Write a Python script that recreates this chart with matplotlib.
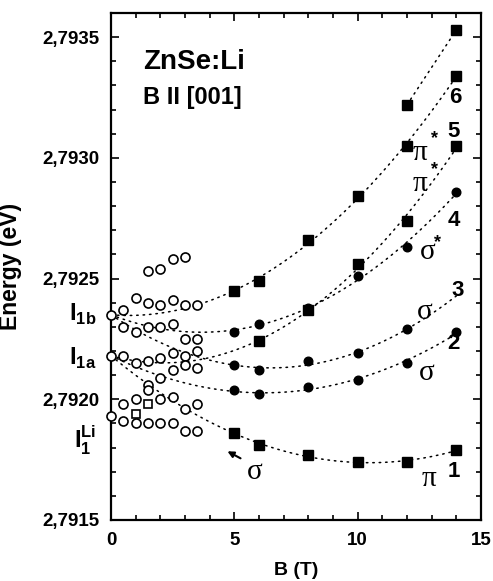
import numpy as np
import matplotlib
matplotlib.use("Agg")
import matplotlib.pyplot as plt
from matplotlib.ticker import MultipleLocator, FuncFormatter

plt.rcParams['font.family'] = ['Liberation Sans', 'DejaVu Sans']
plt.rcParams['font.weight'] = 'bold'
plt.rcParams['mathtext.fontset'] = 'custom'
plt.rcParams['mathtext.rm'] = 'Liberation Sans:bold'
plt.rcParams['mathtext.bf'] = 'Liberation Sans:bold'

# zero-field lines
E_1b = 2.79235
E_1a = 2.79218
E_1Li = 2.79193

# low field open circles (B, E)
oc_B = [0, 0, 0,
        0.5, 0.5, 0.5, 0.5, 0.5,
        1, 1, 1, 1, 1,
        1.5, 1.5, 1.5, 1.5, 1.5, 1.5, 1.5,
        2, 2, 2, 2, 2, 2, 2,
        2.5, 2.5, 2.5, 2.5, 2.5, 2.5, 2.5,
        3, 3, 3, 3, 3, 3, 3,
        3.5, 3.5, 3.5, 3.5, 3.5, 3.5]
oc_E = [2.79235, 2.79218, 2.79193,
        2.79237, 2.79230, 2.79218, 2.79198, 2.79191,
        2.79242, 2.79228, 2.79215, 2.79200, 2.79190,
        2.79253, 2.79240, 2.79230, 2.79216, 2.79206, 2.79204, 2.79190,
        2.79254, 2.79239, 2.79230, 2.79217, 2.79209, 2.79200, 2.79190,
        2.79258, 2.79241, 2.79231, 2.79219, 2.79212, 2.79201, 2.79190,
        2.79259, 2.79239, 2.79225, 2.79218, 2.79214, 2.79196, 2.79187,
        2.79239, 2.79225, 2.79220, 2.79213, 2.79198, 2.79187]
os_B = [1, 1.5]
os_E = [2.79194, 2.79198]

# high field lines
B1 = [5, 6, 8, 10, 12, 14]
E1 = [2.79186, 2.79181, 2.79177, 2.79174, 2.79174, 2.79179]
B2 = [5, 6, 8, 10, 12, 14]
E2 = [2.79204, 2.79202, 2.79205, 2.79208, 2.79215, 2.79228]
B3 = [5, 6, 8, 10, 12]
E3 = [2.79214, 2.79212, 2.79216, 2.79219, 2.79229]
B4 = [5, 6, 8, 10, 12, 14]
E4 = [2.79228, 2.79231, 2.79238, 2.79251, 2.79263, 2.79286]
B5 = [6, 8, 10, 12, 14]
E5 = [2.79224, 2.79237, 2.79256, 2.79274, 2.79305]
B6 = [5, 6, 8, 10, 12, 14]
E6 = [2.79245, 2.79249, 2.79266, 2.79284, 2.79305, 2.79334]
B7 = [12, 14]
E7 = [2.79322, 2.79353]

fig = plt.figure(figsize=(4.93, 5.81), dpi=100)
ax = fig.add_axes([0.2252, 0.1050, 0.7505, 0.8726])

dot = dict(color='black', linestyle=(0, (1, 3.2)), linewidth=1.1,
           dash_capstyle='round')


def fit_line(B, E, E0):
    x = np.array([0] + list(B))
    y = np.array([E0] + list(E)) - 2.792
    w = np.ones_like(x, dtype=float)
    w[0] = 4
    p = np.polyfit(x, y, 2, w=w)
    bb = np.linspace(0, 14, 200)
    ax.plot(bb, np.polyval(p, bb) + 2.792, **dot)


fit_line(B1, E1, E_1a)
fit_line(B2, E2, E_1a)
fit_line(B3, E3, E_1b)
fit_line(B4, E4, E_1b)
fit_line(B5, E5, E_1a)
fit_line(B6, E6, E_1b)
ax.plot(B7, E7, **dot)

sq = dict(marker='s', color='black', linestyle='none', markersize=6.5)
ci = dict(marker='o', color='black', linestyle='none', markersize=6.2)
ax.plot(B1, E1, **sq)
ax.plot(B2, E2, **ci)
ax.plot(B3, E3, **ci)
ax.plot(B4, E4, **ci)
ax.plot(B5, E5, **sq)
ax.plot(B6, E6, **sq)
ax.plot(B7, E7, **sq)

ax.plot(oc_B, oc_E, marker='o', linestyle='none', markersize=6.5,
        markerfacecolor='white', markeredgecolor='black', markeredgewidth=1.2,
        clip_on=False, zorder=5)
ax.plot(os_B, os_E, marker='s', linestyle='none', markersize=6,
        markerfacecolor='white', markeredgecolor='black', markeredgewidth=1.2,
        zorder=5)

ax.set_xlim(0, 15)
ax.set_ylim(2.7915, 2.7936)
ax.xaxis.set_major_locator(MultipleLocator(5))
ax.xaxis.set_minor_locator(MultipleLocator(1))
ax.yaxis.set_major_locator(MultipleLocator(0.0005))
ax.yaxis.set_minor_locator(MultipleLocator(0.0001))
ax.yaxis.set_major_formatter(FuncFormatter(lambda v, p: f"{v:.4f}".replace('.', ',')))
ax.tick_params(which='both', direction='in', top=True, right=True, width=1.2)
ax.tick_params(which='major', length=6, labelsize=13.5)
ax.tick_params(axis='x', which='major', pad=9)
ax.tick_params(axis='y', which='major', pad=8)
ax.tick_params(which='minor', length=3.5)
for lab in ax.get_xticklabels() + ax.get_yticklabels():
    lab.set_fontweight('bold')
for s in ax.spines.values():
    s.set_linewidth(1.6)

ax.set_xlabel('B (T)', fontsize=14, fontweight='bold', labelpad=9)
ax.set_ylabel('Energy (eV)', fontsize=16.5, fontweight='bold')
ax.yaxis.set_label_coords(-0.24, 0.5)

ax.text(0.086, 0.903, 'ZnSe:Li', transform=ax.transAxes, fontsize=20,
        fontweight='bold', va='center')
ax.text(0.086, 0.834, 'B II [001]', transform=ax.transAxes, fontsize=17,
        fontweight='bold', va='center')

# zero field labels
ax.text(-0.04, E_1b, r'$\mathbf{I}_{\mathbf{1b}}$', transform=ax.get_yaxis_transform(),
        fontsize=17, ha='right', va='center')
ax.text(-0.04, E_1a - 0.00001, r'$\mathbf{I}_{\mathbf{1a}}$', transform=ax.get_yaxis_transform(),
        fontsize=17, ha='right', va='center')
ax.text(-0.04, E_1Li - 0.0001, r'$\mathbf{I}_{\mathbf{1}}^{\mathbf{Li}}$',
        transform=ax.get_yaxis_transform(), fontsize=17, ha='right', va='center')

# line labels
num = dict(fontsize=16, fontweight='bold', ha='center', va='center')
ax.text(13.95, 2.79325, '6', **num)
ax.text(13.9, 2.79311, '5', **num)
ax.text(13.9, 2.79274, '4', **num)
ax.text(14.05, 2.79245, '3', **num)
ax.text(13.9, 2.79223, '2', **num)
ax.text(13.9, 2.79170, '1', **num)

gr = dict(fontsize=21, family='Liberation Serif', fontweight='normal',
          ha='center', va='center')
ax.text(12.52, 2.79302, 'π', **gr)
ax.text(12.52, 2.79289, 'π', **gr)
ax.text(12.85, 2.79261, 'σ', **gr)
ax.text(12.73, 2.79236, 'σ', **gr)
ax.text(12.81, 2.79211, 'σ', **gr)
ax.text(12.89, 2.79167, 'π', **gr)
ax.text(5.84, 2.79170, 'σ', **gr)
st = dict(fontsize=13, fontweight='bold', ha='center', va='center')
ax.text(13.13, 2.79308, '*', **st)
ax.text(13.13, 2.79295, '*', **st)
ax.text(13.25, 2.79265, '*', **st)
ax.annotate('', xy=(4.62, 2.79179), xytext=(5.35, 2.79175),
            arrowprops=dict(arrowstyle='-|>', color='black', lw=1.5,
                            mutation_scale=9))

fig.savefig('out.png', dpi=100)
